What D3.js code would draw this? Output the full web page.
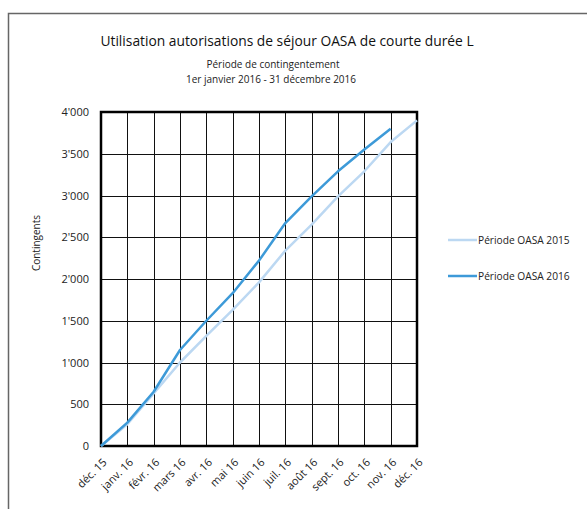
<!DOCTYPE html>
<html><head><meta charset="utf-8">
<script src="https://cdn.jsdelivr.net/npm/d3@7/dist/d3.min.js"></script>
<style>body{margin:0;background:#fff}svg{display:block}text{font-family:"Open Sans","Noto Sans",sans-serif;fill:#222}</style>
</head><body><svg id="c" width="587" height="509"></svg>
<script>
const categories = ["déc. 15","janv. 16","févr. 16","mars 16","avr. 16","mai 16","juin 16","juil. 16","août 16","sept. 16","oct. 16","nov. 16","déc. 16"];
const series2015 = [0, 260, 630, 1000, 1320, 1630, 1960, 2340, 2650, 2990, 3290, 3640, 3900];
const series2016 = [0, 280, 650, 1150, 1500, 1830, 2220, 2670, 2990, 3290, 3550, 3800];
const yTicks = [0, 500, 1000, 1500, 2000, 2500, 3000, 3500, 4000];
const seriesNames = ["Période OASA 2015", "Période OASA 2016"];
const seriesColors = ["#bcd8f2", "#3d9ad8"];

const svg = d3.select("#c");
const m = {l:101, t:112, r:417, b:446};
const x = d3.scalePoint().domain(categories).range([m.l, m.r]);
const y = d3.scaleLinear().domain([0, 4000]).range([m.b, m.t]);
const fmt = v => d3.format(",")(v).replace(/,/g, "'");

// outer frame
svg.append("path").attr("d", `M8.5,509 V13.5 H587`).attr("fill","none").attr("stroke","#666").attr("stroke-width",1.5);

// grid
const g = svg.append("g");
g.selectAll(".hg").data(yTicks).join("line")
  .attr("x1", m.l).attr("x2", m.r).attr("y1", d => Math.round(y(d))+0.5).attr("y2", d => Math.round(y(d))+0.5)
  .attr("stroke", "#111").attr("stroke-width", 1);
g.selectAll(".vg").data(categories).join("line")
  .attr("y1", m.t).attr("y2", m.b).attr("x1", d => Math.round(x(d))+0.5).attr("x2", d => Math.round(x(d))+0.5)
  .attr("stroke", "#111").attr("stroke-width", 1);

// y axis labels
const ya = svg.append("g").attr("transform", `translate(${m.l},0)`)
  .call(d3.axisLeft(y).tickValues(yTicks).tickFormat(fmt).tickSize(0).tickPadding(12));
ya.select(".domain").remove();
ya.selectAll("text").style("font-size","11px").style("font-family",'"Open Sans",sans-serif').attr("fill","#222");

// x axis labels
const xa = svg.append("g").attr("transform", `translate(0,${m.b})`)
  .call(d3.axisBottom(x).tickSize(0).tickPadding(0));
xa.select(".domain").remove();
xa.selectAll("text").style("font-size","11px").style("font-family",'"Open Sans",sans-serif').attr("fill","#222")
  .attr("text-anchor","end").attr("dy",0)
  .attr("transform","translate(6,17) rotate(-45)");

// plot border
svg.append("rect").attr("x", m.l).attr("y", m.t).attr("width", m.r-m.l).attr("height", m.b-m.t)
  .attr("fill","none").attr("stroke","#000").attr("stroke-width",2.5);

// lines
const line = d3.line().x((d,i) => x(categories[i])).y(d => y(d));
[series2015, series2016].forEach((s, k) => {
  svg.append("path").datum(s).attr("d", line).attr("fill","none")
    .attr("stroke", seriesColors[k]).attr("stroke-width", 2.5).attr("stroke-linejoin","round");
});

// legend
const ly = [240, 276];
seriesNames.forEach((n, k) => {
  svg.append("line").attr("x1",448).attr("x2",477).attr("y1",ly[k]).attr("y2",ly[k])
    .attr("stroke",seriesColors[k]).attr("stroke-width",2.5);
  svg.append("text").attr("x",478).attr("y",ly[k]+4).style("font-size","10.2px").text(n);
});

// titles
svg.append("text").attr("x",287).attr("y",46).attr("text-anchor","middle").style("font-size","13.8px").style("fill","#111").text("Utilisation autorisations de séjour OASA de courte durée L");
svg.append("text").attr("x",273).attr("y",68).attr("text-anchor","middle").style("font-size","10px").text("Période de contingentement");
svg.append("text").attr("x",271).attr("y",83).attr("text-anchor","middle").style("font-size","10px").text("1er janvier 2016 - 31 décembre 2016");
svg.append("text").attr("transform","translate(40,243) rotate(-90)").attr("text-anchor","middle").style("font-size","10px").text("Contingents");
</script></body></html>
